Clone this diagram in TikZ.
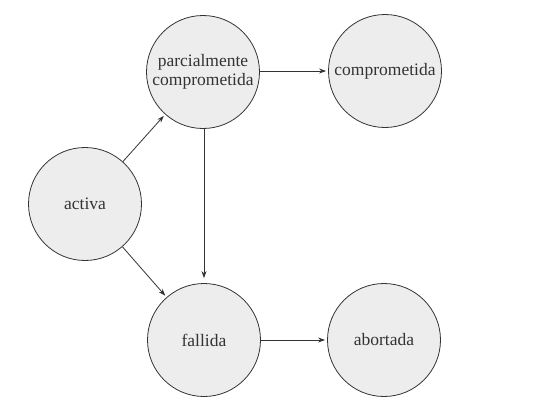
\documentclass[tikz,border=0pt]{standalone}
\usepackage{fontspec}
\setmainfont{Liberation Serif}
\usetikzlibrary{arrows.meta}
\definecolor{statefill}{HTML}{EDEDED}
\definecolor{statedraw}{HTML}{333333}
\begin{document}
\begin{tikzpicture}[x=1pt,y=-1pt,
  state/.style={circle,draw=statedraw,fill=statefill,line width=0.8pt,minimum size=113pt,inner sep=0pt,align=center,font=\fontsize{17.5}{18.5}\selectfont,text=black!80},
  trans/.style={draw=statedraw,line width=0.8pt,-{Stealth[length=7pt,width=5pt]},shorten >=2pt}]
\useasboundingbox (0,0) rectangle (536,410);
\node[state] (act) at (85,204) {activa};
\node[state] (par) at (203,72) {parcialmente\\comprometida};
\node[state] (com) at (385,71) {comprometida};
\node[state] (fal) at (204,340) {fallida};
\node[state] (abo) at (384,340) {abortada};
\draw[trans] (act) -- (par);
\draw[trans] (act) -- (fal);
\draw[trans,shorten >=5pt] (par.south -| fal.north) -- (fal.north);
\draw[trans] (par.east |- com.west) -- (com.west);
\draw[trans] (fal) -- (abo);
\end{tikzpicture}
\end{document}
